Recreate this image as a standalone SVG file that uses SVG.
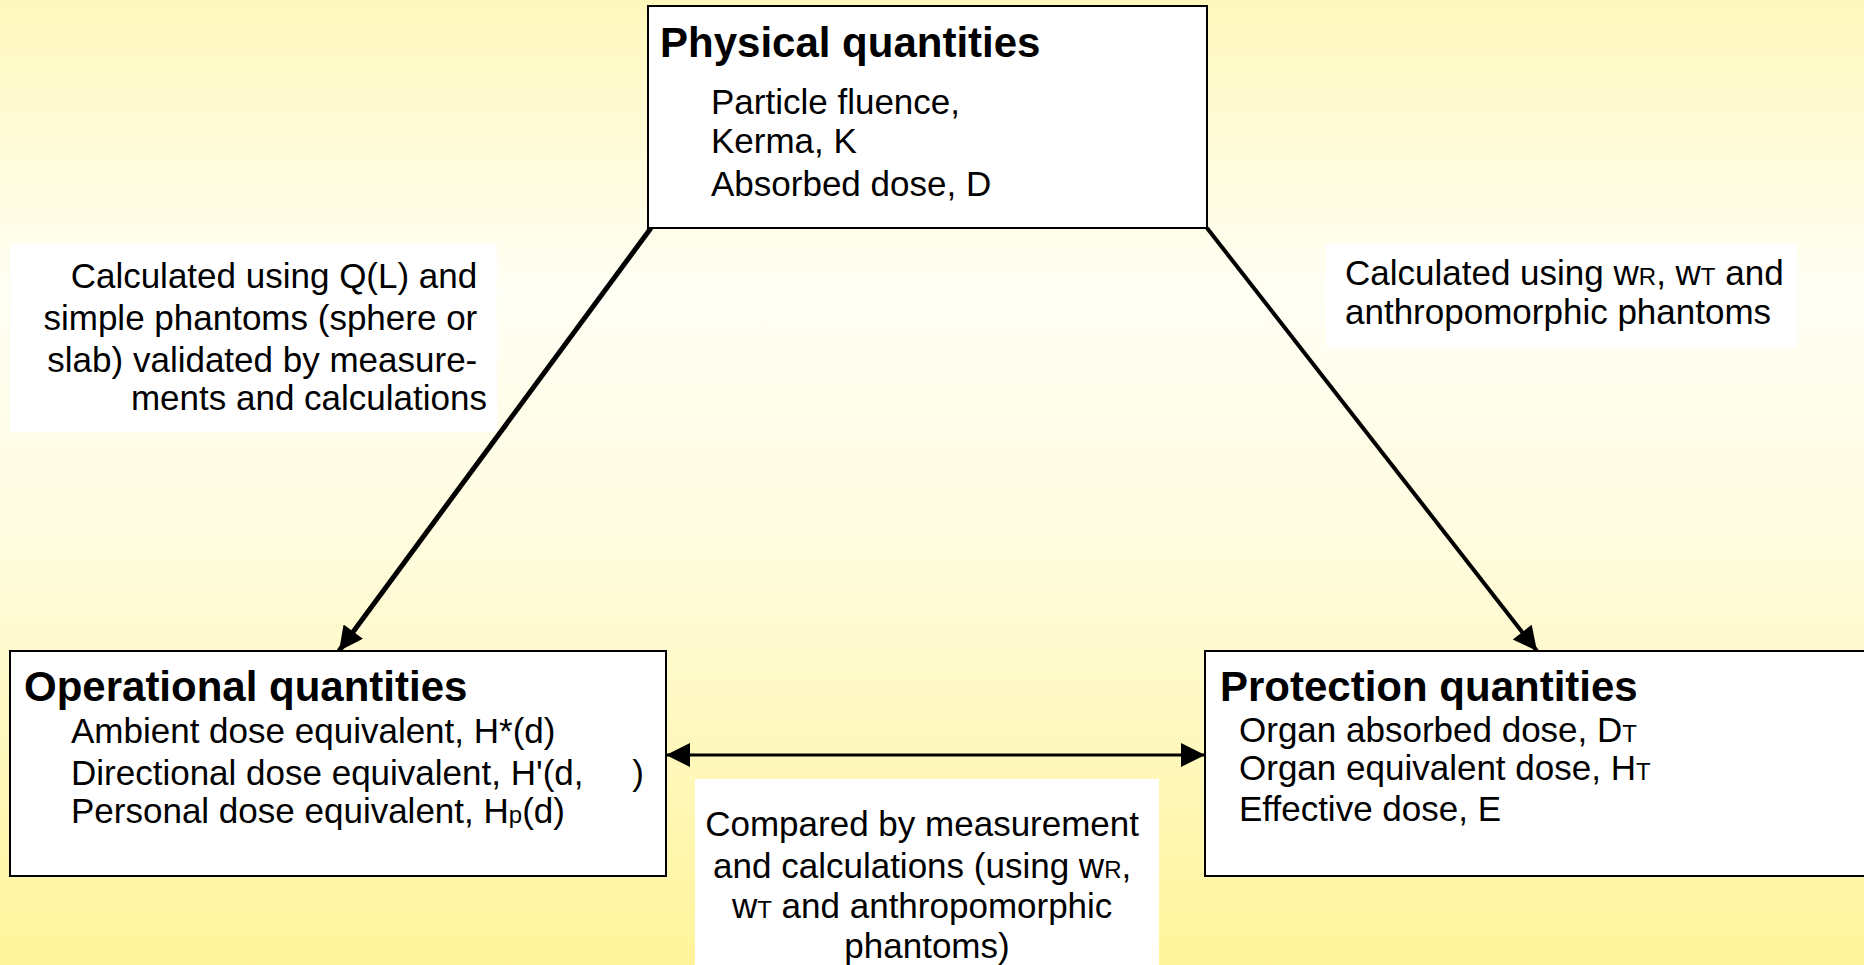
<svg xmlns="http://www.w3.org/2000/svg" width="1864" height="965" viewBox="0 0 1864 965">
<defs>
<linearGradient id="bg" x1="0" y1="0" x2="0" y2="1">
<stop offset="0" stop-color="#FFF8BC"/>
<stop offset="0.3" stop-color="#FFFEF4"/>
<stop offset="0.55" stop-color="#FFFCE0"/>
<stop offset="1" stop-color="#FFF49A"/>
</linearGradient>
<marker id="ah2" viewBox="0 0 10 10" refX="10" refY="5" markerWidth="30" markerHeight="24" orient="auto-start-reverse" markerUnits="userSpaceOnUse">
<path d="M0,0 L10,5 L0,10 z" fill="#000"/>
</marker>
</defs>
<style>
.box{fill:#fff;stroke:#000;stroke-width:2}
.lbl{fill:#fff;stroke:none}
.h{font-family:"Liberation Sans",Arial,sans-serif;font-weight:bold;font-size:42px;fill:#000}
.t{font-family:"Liberation Sans",Arial,sans-serif;font-size:35px;fill:#000}
.s{font-size:24px}
.ln{stroke:#000;fill:none}
</style>
<rect x="0" y="0" width="1864" height="965" fill="url(#bg)"/>

<g id="label-left">
<rect class="lbl" x="10" y="244" width="487" height="188"/>
<text class="t" text-anchor="end">
<tspan x="487" y="288">Calculated using Q(L) and</tspan>
<tspan x="487" y="330">simple phantoms (sphere or</tspan>
<tspan x="487" y="372">slab) validated by measure-</tspan>
<tspan x="487" y="410">ments and calculations</tspan>
</text>
</g>

<g id="label-right">
<rect class="lbl" x="1326" y="244" width="471" height="103"/>
<text class="t">
<tspan x="1345" y="285">Calculated using w<tspan class="s">R</tspan>, w<tspan class="s">T</tspan> and</tspan>
<tspan x="1345" y="324">anthropomorphic phantoms</tspan>
</text>
</g>

<g id="label-bottom">
<rect class="lbl" x="695" y="779" width="464" height="190"/>
<text class="t" text-anchor="middle">
<tspan x="927" y="836">Compared by measurement</tspan>
<tspan x="927" y="878">and calculations (using w<tspan class="s">R</tspan>,</tspan>
<tspan x="927" y="918">w<tspan class="s">T</tspan> and anthropomorphic</tspan>
<tspan x="927" y="958">phantoms)</tspan>
</text>
</g>

<g id="connectors">
<line class="ln" x1="651" y1="228" x2="339" y2="651" stroke-width="5" marker-end="url(#ah2)"/>
<line class="ln" x1="1207" y1="228" x2="1537" y2="651" stroke-width="4" marker-end="url(#ah2)"/>
<line class="ln" x1="666" y1="755" x2="1205" y2="755" stroke-width="3" marker-start="url(#ah2)" marker-end="url(#ah2)"/>
</g>

<g id="node-physical">
<rect class="box" x="648" y="6" width="559" height="222"/>
<text class="h" x="660" y="57">Physical quantities</text>
<text class="t">
<tspan x="711" y="114">Particle fluence,</tspan>
<tspan x="711" y="153">Kerma, K</tspan>
<tspan x="711" y="196">Absorbed dose, D</tspan>
</text>
</g>

<g id="node-operational">
<rect class="box" x="10" y="651" width="656" height="225"/>
<text class="h" x="24" y="701">Operational quantities</text>
<text class="t">
<tspan x="71" y="743">Ambient dose equivalent, H*(d)</tspan>
<tspan x="71" y="785">Directional dose equivalent, H'(d,&#160;&#160;&#160;&#160;&#160;)</tspan>
<tspan x="71" y="823">Personal dose equivalent, H<tspan class="s">p</tspan>(d)</tspan>
</text>
</g>

<g id="node-protection">
<rect class="box" x="1205" y="651" width="670" height="225"/>
<text class="h" x="1220" y="701">Protection quantities</text>
<text class="t">
<tspan x="1239" y="742">Organ absorbed dose, D<tspan class="s">T</tspan></tspan>
<tspan x="1239" y="780">Organ equivalent dose, H<tspan class="s">T</tspan></tspan>
<tspan x="1239" y="821">Effective dose, E</tspan>
</text>
</g>
</svg>
